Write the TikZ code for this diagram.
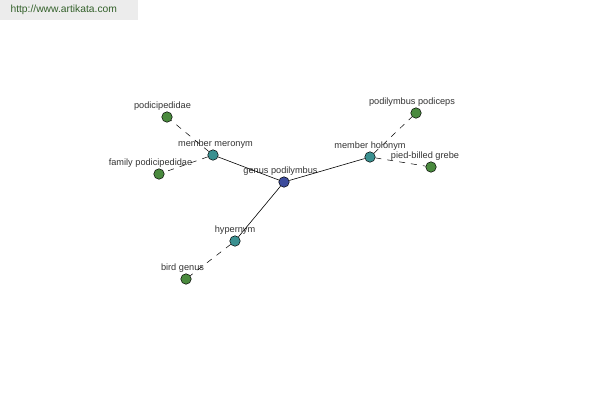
\documentclass[tikz,border=0pt]{standalone}
\usepackage{fontspec}
\setmainfont{Liberation Sans}
\definecolor{leafgreen}{HTML}{4A8A3E}
\definecolor{midteal}{HTML}{3A9090}
\definecolor{rootblue}{HTML}{3C4B9C}
\definecolor{txtgray}{HTML}{333333}
\tikzset{
  dot/.style={circle,draw=black,line width=0.5pt,inner sep=0pt,minimum size=10.5pt},
  leaf/.style={dot,fill=leafgreen},
  mid/.style={dot,fill=midteal},
  root/.style={dot,fill=rootblue},
  lbl/.style={text=txtgray,font=\fontsize{9.2}{10}\selectfont,inner sep=0pt,label distance=1pt},
  rel/.style={draw=black,line width=0.6pt},
  far/.style={draw=black,line width=0.5pt,dash pattern=on 6pt off 6pt}
}
\begin{document}
\begin{tikzpicture}[x=1pt,y=-1pt]
\useasboundingbox (0,0) rectangle (600,400);
% site stamp
\fill[gray!15] (0,0) rectangle (138,20);
\node[text=leafgreen!70!black,font=\fontsize{10.3}{11}\selectfont,anchor=west] (site) at (7,10) {http://www.artikata.com};
% centre and middle ring
\node[root,label={[lbl,xshift=-3.5pt]above:genus podilymbus}] (genus) at (284,182) {};
\node[mid,label={[lbl,xshift=2.5pt]above:member meronym}] (meronym) at (213,155) {};
\node[mid,label={[lbl]above:member holonym}] (holonym) at (370,157) {};
\node[mid,label={[lbl]above:hypernym}] (hypernym) at (235,241) {};
% outer ring
\node[leaf,label={[lbl,xshift=-4.5pt]above:podicipedidae}] (podicipedidae) at (167,117) {};
\node[leaf,label={[lbl,xshift=-8.5pt]above:family podicipedidae}] (family) at (159,174) {};
\node[leaf,label={[lbl,xshift=-4pt]above:podilymbus podiceps}] (podiceps) at (416,113) {};
\node[leaf,label={[lbl,xshift=-6pt]above:pied-billed grebe}] (grebe) at (431,167) {};
\node[leaf,label={[lbl,xshift=-3.5pt]above:bird genus}] (birdgenus) at (186,279) {};
% links
\path[rel] (genus) -- (meronym)
           (genus) -- (holonym)
           (genus) -- (hypernym);
\path[far] (meronym) -- (podicipedidae)
           (meronym) -- (family)
           (holonym) -- (podiceps)
           (holonym) -- (grebe)
           (hypernym) -- (birdgenus);
\end{tikzpicture}
\end{document}
